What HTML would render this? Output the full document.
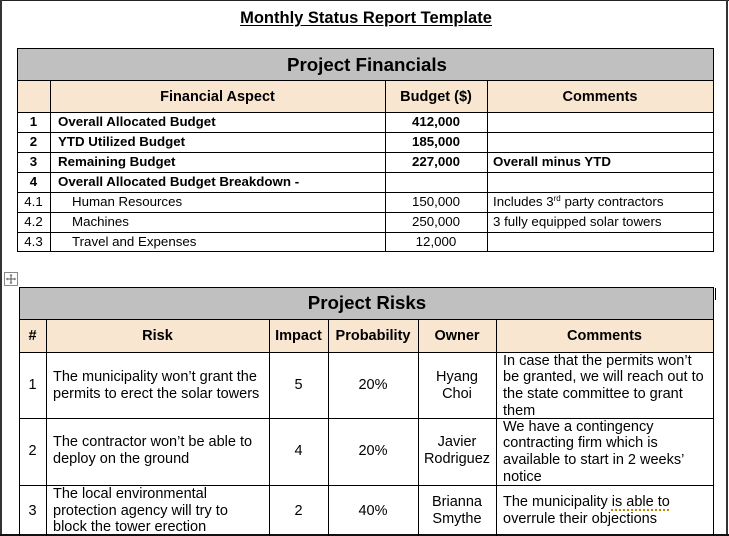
<!DOCTYPE html>
<html><head><meta charset="utf-8"><style>
html,body{margin:0;padding:0;}
body{width:729px;height:536px;position:relative;overflow:hidden;background:#fff;font-family:"Liberation Sans",Arial,sans-serif;color:#000;}
.a{position:absolute;}
.h{position:absolute;background:#000;height:1px;}
.v{position:absolute;background:#000;width:1px;}
.t{position:absolute;white-space:nowrap;}
.c{text-align:center;}
.b{font-weight:bold;}
.f{font-size:13.3px;line-height:20px;}
.fh{font-size:14.5px;line-height:20px;font-weight:bold;}
.r{font-size:14.5px;line-height:16.7px;}
</style></head><body>
<!-- frame -->
<div class="a" style="left:0;top:0;width:729px;height:1px;background:#222"></div>
<div class="a" style="left:0;top:0;width:2px;height:536px;background:#333"></div>
<div class="a" style="left:726px;top:0;width:2px;height:536px;background:#333"></div>
<div class="a" style="left:0;top:534px;width:729px;height:2px;background:#111"></div>

<!-- title -->
<div class="t c b" style="left:17px;width:698px;top:7px;font-size:16.5px;line-height:22px;"><span style="text-decoration:underline;text-underline-offset:2px;">Monthly Status Report Template</span></div>

<!-- Financials table backgrounds -->
<div class="a" style="left:17px;top:48px;width:696px;height:32px;background:#c0c0c0"></div>
<div class="a" style="left:17px;top:80px;width:696px;height:32px;background:#f8e6d0"></div>
<!-- lines -->
<div class="h" style="left:17px;top:48px;width:697px;"></div>
<div class="h" style="left:17px;top:80px;width:697px;"></div>
<div class="h" style="left:17px;top:112px;width:697px;"></div>
<div class="h" style="left:17px;top:132px;width:697px;"></div>
<div class="h" style="left:17px;top:152px;width:697px;"></div>
<div class="h" style="left:17px;top:172px;width:697px;"></div>
<div class="h" style="left:17px;top:192px;width:697px;"></div>
<div class="h" style="left:17px;top:212px;width:697px;"></div>
<div class="h" style="left:17px;top:232px;width:697px;"></div>
<div class="h" style="left:17px;top:251px;width:697px;"></div>
<div class="v" style="left:17px;top:48px;height:204px;"></div>
<div class="v" style="left:713px;top:48px;height:204px;"></div>
<div class="v" style="left:50px;top:80px;height:172px;"></div>
<div class="v" style="left:385px;top:80px;height:172px;"></div>
<div class="v" style="left:487px;top:80px;height:172px;"></div>

<div class="t c b" style="left:17px;width:700px;top:53px;font-size:18.7px;line-height:24px;">Project Financials</div>
<div class="t c fh" style="left:50px;width:335px;top:87px;">Financial Aspect</div>
<div class="t c fh" style="left:385px;width:102px;top:87px;">Budget ($)</div>
<div class="t c fh" style="left:487px;width:226px;top:87px;">Comments</div>

<!-- rows -->
<div class="t c f b" style="left:17px;width:33px;top:112px;">1</div>
<div class="t f b" style="left:58px;top:112px;">Overall Allocated Budget</div>
<div class="t c f b" style="left:385px;width:102px;top:112px;">412,000</div>

<div class="t c f b" style="left:17px;width:33px;top:132px;">2</div>
<div class="t f b" style="left:58px;top:132px;">YTD Utilized Budget</div>
<div class="t c f b" style="left:385px;width:102px;top:132px;">185,000</div>

<div class="t c f b" style="left:17px;width:33px;top:152px;">3</div>
<div class="t f b" style="left:58px;top:152px;">Remaining Budget</div>
<div class="t c f b" style="left:385px;width:102px;top:152px;">227,000</div>
<div class="t f b" style="left:493px;top:152px;">Overall minus YTD</div>

<div class="t c f b" style="left:17px;width:33px;top:172px;">4</div>
<div class="t f b" style="left:58px;top:172px;">Overall Allocated Budget Breakdown -</div>

<div class="t c f" style="left:17px;width:33px;top:192px;">4.1</div>
<div class="t f" style="left:72px;top:192px;">Human Resources</div>
<div class="t c f" style="left:385px;width:102px;top:192px;">150,000</div>
<div class="t f" style="left:493px;top:192px;">Includes 3<sup style="font-size:8px;line-height:0;vertical-align:5px;">rd</sup> party contractors</div>

<div class="t c f" style="left:17px;width:33px;top:212px;">4.2</div>
<div class="t f" style="left:72px;top:212px;">Machines</div>
<div class="t c f" style="left:385px;width:102px;top:212px;">250,000</div>
<div class="t f" style="left:493px;top:212px;">3 fully equipped solar towers</div>

<div class="t c f" style="left:17px;width:33px;top:232px;">4.3</div>
<div class="t f" style="left:72px;top:232px;">Travel and Expenses</div>
<div class="t c f" style="left:385px;width:102px;top:232px;">12,000</div>

<!-- move icon -->
<svg class="a" style="left:4px;top:272px;" width="14" height="14" viewBox="0 0 14 14">
<rect x="0.5" y="0.5" width="13" height="13" fill="#fff" stroke="#888"/>
<path d="M7 2.5V11.5M2.5 7H11.5" stroke="#555" stroke-width="1"/>
<path d="M7 2l-1.5 1.5h3zM7 12l-1.5-1.5h3zM2 7l1.5-1.5v3zM12 7l-1.5-1.5v3z" fill="#555"/>
</svg>

<!-- Risks table -->
<div class="a" style="left:19px;top:287px;width:694px;height:32px;background:#c0c0c0"></div>
<div class="a" style="left:19px;top:319px;width:694px;height:33px;background:#f8e6d0"></div>
<div class="h" style="left:19px;top:287px;width:695px;"></div>
<div class="h" style="left:19px;top:319px;width:695px;"></div>
<div class="h" style="left:19px;top:352px;width:695px;"></div>
<div class="h" style="left:19px;top:418px;width:695px;"></div>
<div class="h" style="left:19px;top:485px;width:695px;"></div>
<div class="v" style="left:19px;top:287px;height:249px;"></div>
<div class="v" style="left:713px;top:287px;height:249px;"></div>
<div class="v" style="left:46px;top:319px;height:217px;"></div>
<div class="v" style="left:269px;top:319px;height:217px;"></div>
<div class="v" style="left:328px;top:319px;height:217px;"></div>
<div class="v" style="left:418px;top:319px;height:217px;"></div>
<div class="v" style="left:496px;top:319px;height:217px;"></div>
<div class="v" style="left:715px;top:288px;height:12px;"></div>

<div class="t c b" style="left:19px;width:696px;top:291px;font-size:18.7px;line-height:24px;">Project Risks</div>
<div class="t c fh" style="left:19px;width:27px;top:326px;">#</div>
<div class="t c fh" style="left:46px;width:223px;top:326px;">Risk</div>
<div class="t c fh" style="left:269px;width:59px;top:326px;">Impact</div>
<div class="t c fh" style="left:328px;width:90px;top:326px;">Probability</div>
<div class="t c fh" style="left:418px;width:78px;top:326px;">Owner</div>
<div class="t c fh" style="left:496px;width:217px;top:326px;">Comments</div>

<!-- row 1 -->
<div class="t c r" style="left:19px;width:27px;top:377px;">1</div>
<div class="t r" style="left:53px;top:369px;">The municipality won’t grant the<br>permits to erect the solar towers</div>
<div class="t c r" style="left:269px;width:59px;top:377px;">5</div>
<div class="t c r" style="left:328px;width:90px;top:377px;">20%</div>
<div class="t c r" style="left:418px;width:78px;top:369px;">Hyang<br>Choi</div>
<div class="t r" style="left:503px;top:352.5px;">In case that the permits won’t<br>be granted, we will reach out to<br>the state committee to grant<br>them</div>

<!-- row 2 -->
<div class="t c r" style="left:19px;width:27px;top:443px;">2</div>
<div class="t r" style="left:53px;top:434px;">The contractor won’t be able to<br>deploy on the ground</div>
<div class="t c r" style="left:269px;width:59px;top:443px;">4</div>
<div class="t c r" style="left:328px;width:90px;top:443px;">20%</div>
<div class="t c r" style="left:418px;width:78px;top:434px;">Javier<br>Rodriguez</div>
<div class="t r" style="left:503px;top:418.5px;">We have a contingency<br>contracting firm which is<br>available to start in 2 weeks’<br>notice</div>

<!-- row 3 -->
<div class="t c r" style="left:19px;width:27px;top:503px;">3</div>
<div class="t r" style="left:53px;top:486px;">The local environmental<br>protection agency will try to<br>block the tower erection</div>
<div class="t c r" style="left:269px;width:59px;top:503px;">2</div>
<div class="t c r" style="left:328px;width:90px;top:503px;">40%</div>
<div class="t c r" style="left:418px;width:78px;top:494px;">Brianna<br>Smythe</div>
<div class="t r" style="left:503px;top:494px;">The municipality <span style="text-decoration:underline dotted #b8860b;text-decoration-thickness:2px;text-underline-offset:3px;">is able to</span><br>overrule their objections</div>
</body></html>
